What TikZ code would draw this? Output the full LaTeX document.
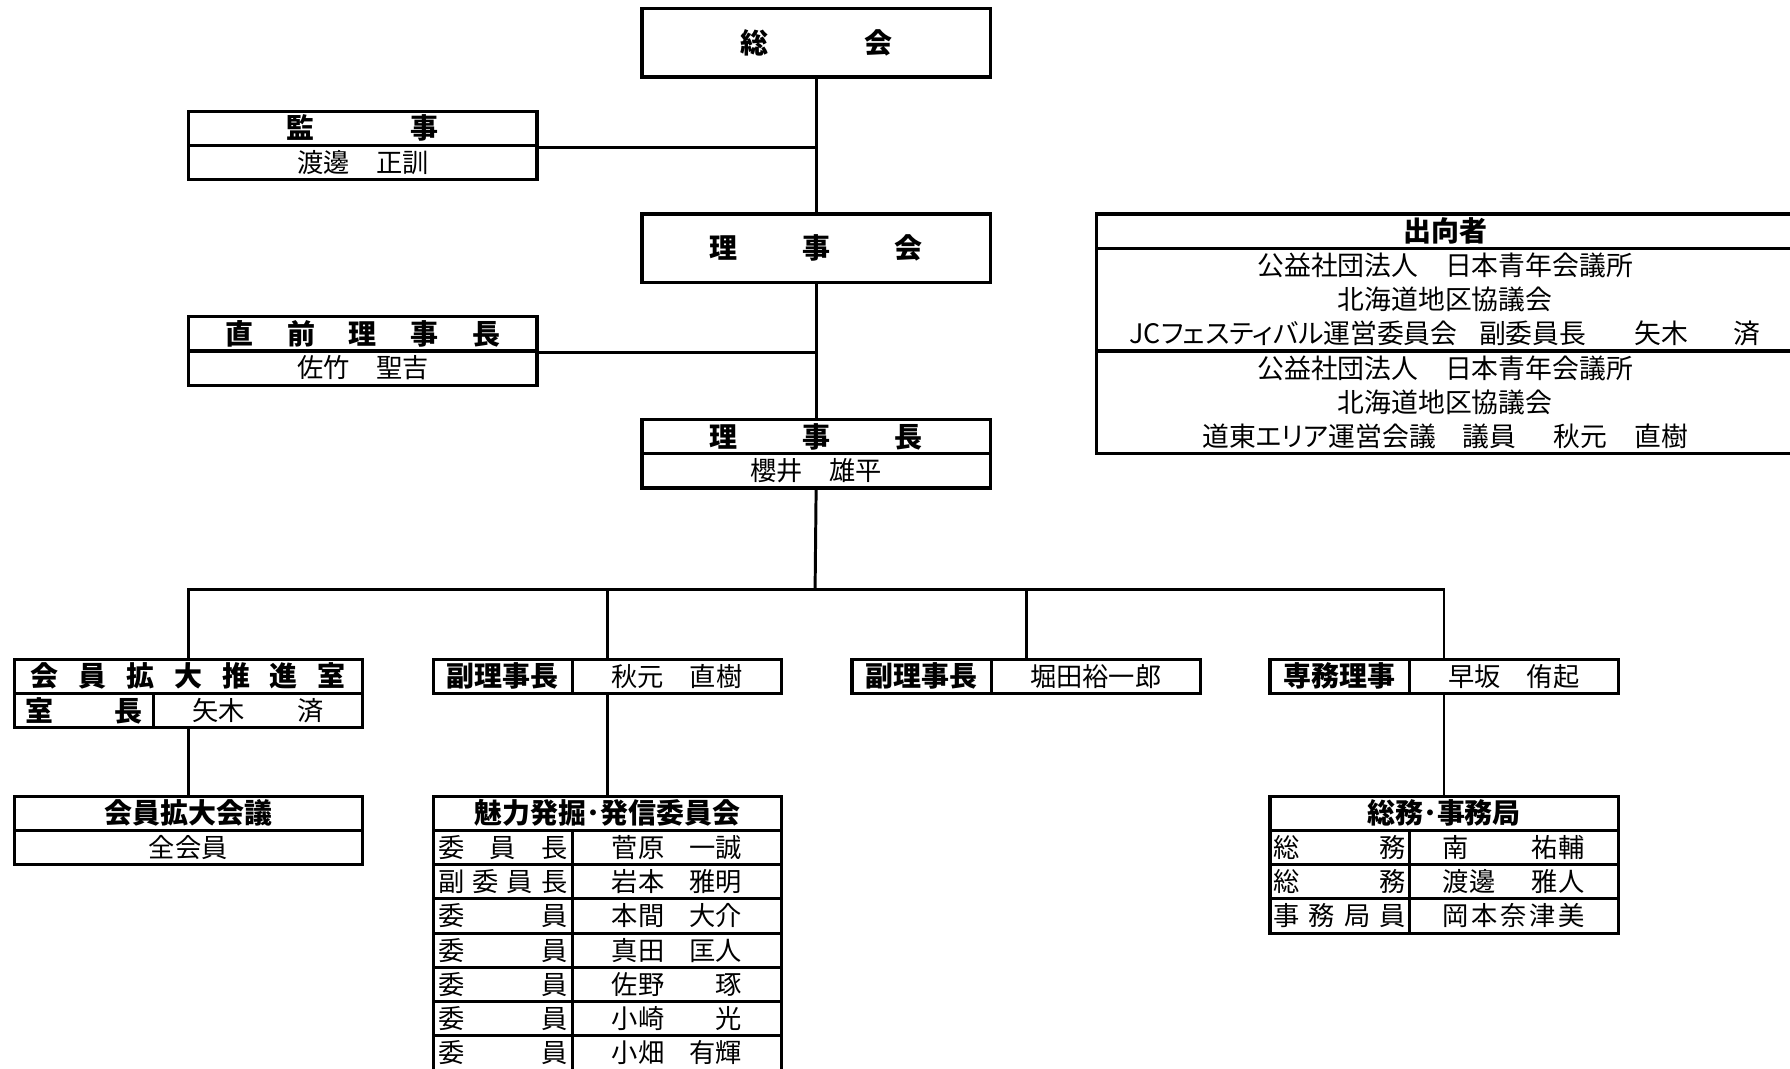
\documentclass[tikz,border=0pt]{standalone}
\usepackage{fontspec}
\setmainfont{Noto Sans CJK JP}
\usetikzlibrary{calc}

\newcommand{\bodyfont}{\fontsize{23}{30}\selectfont}
\newcommand{\headfont}{\fontsize{24.5}{30}\selectfont\bfseries}
\newcommand{\shukkofont}{\fontsize{23.5}{30}\selectfont\addfontfeatures{RawFeature=+palt}}
\newcommand{\spread}[2]{\hbox to #1{#2}}

\tikzset{
  cell/.style={draw, line width=2.8pt, inner sep=0pt, anchor=north west,
    minimum height=30pt, font=\bodyfont},
  headcell/.style={cell, font=\headfont},
  wcell/.style={minimum width=305pt},
  lcell/.style={minimum width=122pt},
  rcell/.style={minimum width=183pt},
  link/.style={line width=2.6pt},
}

\begin{document}
\begin{tikzpicture}[x=1pt, y=-1pt]
  \useasboundingbox (0,0) rectangle (1568,936);

  % main column
  \node[headcell, wcell, minimum height=60pt] (soukai) at (561,6) {\spread{133pt}{総\hfill 会}};
  \node[headcell, wcell, minimum height=60pt] (rijikai) at (561,186) {\spread{186pt}{理\hfill 事\hfill 会}};
  \node[headcell, wcell] (rijichoH) at (561,366) {\spread{186pt}{理\hfill 事\hfill 長}};
  \node[cell, wcell] (rijichoN) at (561,396) {櫻井　雄平};

  % left side
  \node[headcell, wcell] (kansaH) at (164,96) {\spread{133pt}{監\hfill 事}};
  \node[cell, wcell] (kansaN) at (164,126) {渡邊　正訓};
  \node[headcell, wcell] (chokuH) at (164,276) {\spread{241pt}{直\hfill 前\hfill 理\hfill 事\hfill 長}};
  \node[cell, wcell] (chokuN) at (164,306) {佐竹　聖吉};

  % shukko
  \node[headcell, minimum width=611pt] (shukkoH) at (959,186) {出向者};
  \node[cell, minimum width=611pt, minimum height=90pt, align=center, font=\shukkofont] (shukkoA) at (959,216)
    {公益社団法人\hspace{1em}日本青年会議所\\北海道地区協議会\\JCフェスティバル運営委員会\hspace{0.8em}副委員長\hspace{1.8em}矢木\hspace{1.7em}済};
  \node[cell, minimum width=611pt, minimum height=90pt, align=center, font=\shukkofont] (shukkoB) at (959,306)
    {公益社団法人\hspace{1em}日本青年会議所\\北海道地区協議会\\道東エリア運営会議\hspace{1em}議員\hspace{1.4em}秋元\hspace{1em}直樹};

  \draw[link] (soukai.south) -- (rijikai.north);
  \draw[link] (rijikai.south) -- (rijichoH.north);
  \draw[link] (kansaH.south east) -- (soukai.south |- kansaH.south east);
  \draw[link] (chokuH.south east) -- (soukai.south |- chokuH.south east);

  % second level
  \node[headcell, wcell] (kakudaiH) at (11,576) {\spread{276pt}{会\hfill 員\hfill 拡\hfill 大\hfill 推\hfill 進\hfill 室}};
  \node[headcell, lcell] (kakudaiL) at (11,606) {\spread{102pt}{室\hfill 長}};
  \node[cell, rcell] (kakudaiR) at (133,606) {矢木　　済};
  \node[headcell, lcell] (fukuAL) at (378,576) {副理事長};
  \node[cell, rcell] (fukuAR) at (500,576) {秋元　直樹};
  \node[headcell, lcell] (fukuBL) at (745,576) {副理事長};
  \node[cell, rcell] (fukuBR) at (867,576) {堀田裕一郎};
  \node[headcell, lcell] (senmuL) at (1111,576) {専務理事};
  \node[cell, rcell] (senmuR) at (1233,576) {早坂　侑起};

  \coordinate (bus) at (714,516);
  \coordinate (fukuB) at ($(fukuBL.north west)!0.5!(fukuBR.north east)$);
  \coordinate (senmu) at ($(senmuL.north west)!0.5!(senmuR.north east)$);
  \draw[link] (rijichoN.south) -- (bus);
  \draw[link] (kakudaiH.north) |- (bus) -| (senmu);
  \draw[link] (fukuB) -- (fukuB |- bus);

  % third level
  \node[headcell, wcell] (kaigiH) at (11,696) {会員拡大会議};
  \node[cell, wcell] (kaigiN) at (11,726) {全会員};
  \node[headcell, wcell] (miryokuH) at (378,696) {魅力発掘･発信委員会};
  \foreach \i/\role/\who in {1/{委\hfill 員\hfill 長}/{菅原\hfill 一誠},
      2/{副\hfill 委\hfill 員\hfill 長}/{岩本\hfill 雅明}, 3/{委\hfill 員}/{本間\hfill 大介},
      4/{委\hfill 員}/{真田\hfill 匡人}, 5/{委\hfill 員}/{佐野\hfill 琢},
      6/{委\hfill 員}/{小崎\hfill 光}, 7/{委\hfill 員}/{小畑\hfill 有輝}} {
    \node[cell, lcell] (ml\i) at (378,{696+30*\i}) {\spread{113pt}{\role}};
    \node[cell, rcell] (mr\i) at (500,{696+30*\i}) {\spread{114pt}{\who}};
  }
  \node[headcell, wcell] (somuH) at (1111,696) {総務･事務局};
  \foreach \i/\role/\who in {1/{総\hfill 務}/{南\hfill 祐輔}, 2/{総\hfill 務}/{渡邊\hfill 雅人},
      3/{事\hfill 務\hfill 局\hfill 員}/{岡\hfill 本\hfill 奈\hfill 津\hfill 美}} {
    \node[cell, lcell] (sl\i) at (1111,{696+30*\i}) {\spread{116pt}{\role}};
    \node[cell, rcell] (sr\i) at (1233,{696+30*\i}) {\spread{124pt}{\who}};
  }

  \draw[link] (miryokuH.north |- bus) -- (miryokuH.north |- fukuAR.north);
  \draw[link] (kaigiH.north) -- (kaigiH.north |- kakudaiL.south);
  \draw[link] (miryokuH.north) -- (miryokuH.north |- fukuAR.south);
  \draw[link] (somuH.north) -- (somuH.north |- senmuR.south);
\end{tikzpicture}
\end{document}
